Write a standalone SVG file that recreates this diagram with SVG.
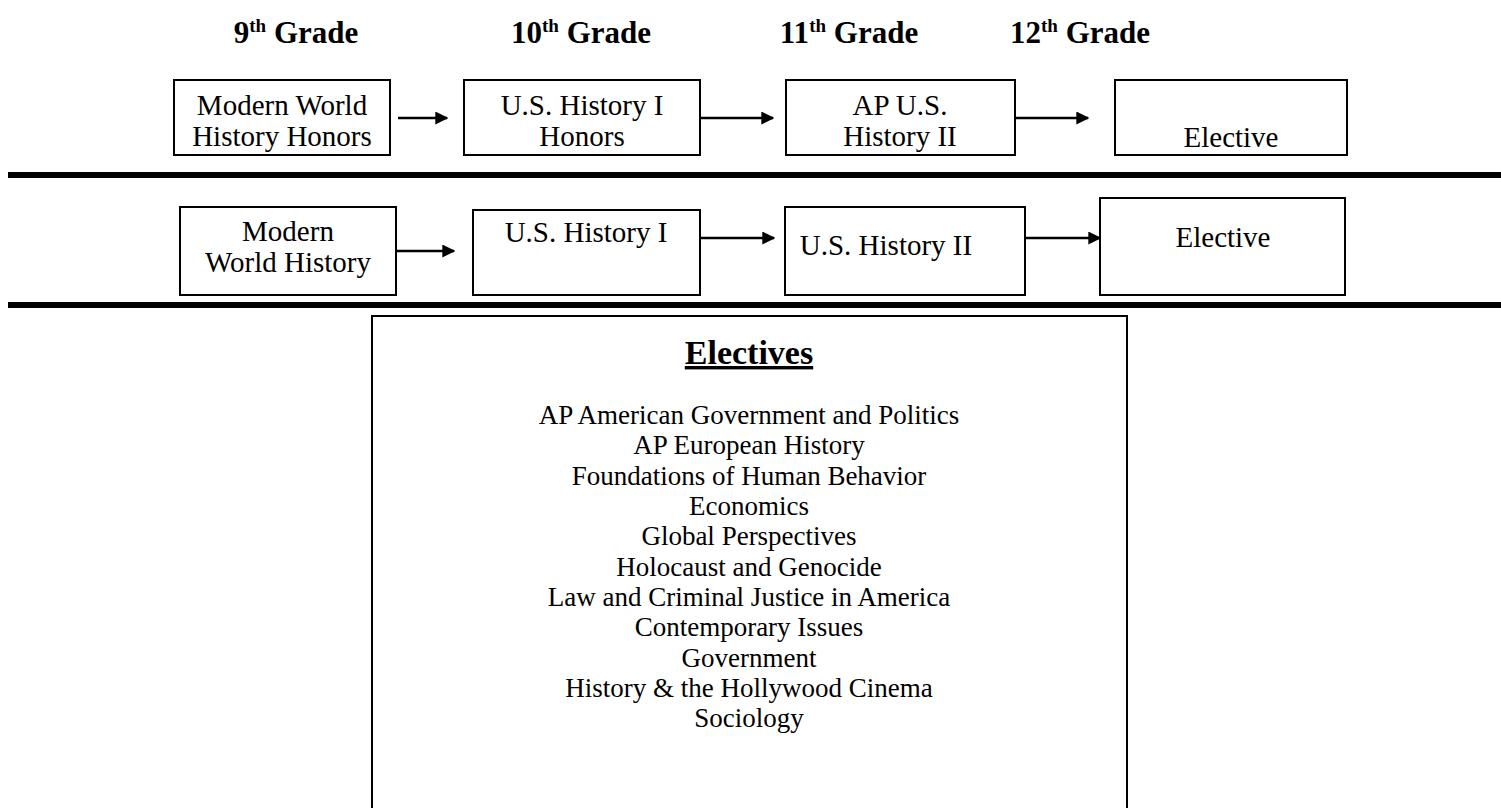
<svg xmlns="http://www.w3.org/2000/svg" width="1501" height="808" viewBox="0 0 1501 808">
<style>
  .box{fill:#fff;stroke:#000;stroke-width:2}
  .t{font-family:"Liberation Serif","Times New Roman",serif;font-size:29px;fill:#000;text-anchor:middle}
  .l{font-family:"Liberation Serif","Times New Roman",serif;font-size:27px;fill:#000;text-anchor:middle}
  .h{font-family:"Liberation Serif","Times New Roman",serif;font-size:31px;font-weight:bold;fill:#000;text-anchor:middle}
  .sup{font-size:19px}
  .conn{stroke:#000;stroke-width:2.5;fill:none;marker-end:url(#ah)}
  .rule{fill:#000}
</style>
<defs>
  <marker id="ah" viewBox="0 0 10 10" refX="9" refY="5" markerWidth="5.2" markerHeight="5.2" markerUnits="strokeWidth" orient="auto">
    <path d="M0,0 L10,5 L0,10 z" fill="#000"/>
  </marker>
</defs>
<rect width="1501" height="808" fill="#fff"/>
<g id="headers">
  <text class="h" x="296" y="43">9<tspan class="sup" dy="-11">th</tspan><tspan dy="11"> Grade</tspan></text>
  <text class="h" x="581" y="43">10<tspan class="sup" dy="-11">th</tspan><tspan dy="11"> Grade</tspan></text>
  <text class="h" x="849" y="43">11<tspan class="sup" dy="-11">th</tspan><tspan dy="11"> Grade</tspan></text>
  <text class="h" x="1080" y="43">12<tspan class="sup" dy="-11">th</tspan><tspan dy="11"> Grade</tspan></text>
</g>
<g id="r1n1"><rect class="box" x="174" y="80" width="216" height="75"/>
  <text class="t" x="282" y="115">Modern World</text><text class="t" x="282" y="146">History Honors</text></g>
<g id="r1n2"><rect class="box" x="464" y="80" width="236" height="75"/>
  <text class="t" x="582" y="115">U.S. History I</text><text class="t" x="582" y="146">Honors</text></g>
<g id="r1n3"><rect class="box" x="786" y="80" width="229" height="75"/>
  <text class="t" x="900" y="115">AP U.S.</text><text class="t" x="900" y="146">History II</text></g>
<g id="r1n4"><rect class="box" x="1115" y="80" width="232" height="75"/>
  <text class="t" x="1231" y="147">Elective</text></g>
<g id="rules">
  <rect class="rule" x="8" y="172" width="1493" height="6"/>
  <rect class="rule" x="8" y="302" width="1493" height="6"/>
</g>
<g id="r2n1"><rect class="box" x="180" y="207" width="216" height="88"/>
  <text class="t" x="288" y="241">Modern</text><text class="t" x="288" y="272">World History</text></g>
<g id="r2n2"><rect class="box" x="473" y="210" width="227" height="85"/>
  <text class="t" x="586" y="242">U.S. History I</text></g>
<g id="r2n3"><rect class="box" x="785" y="207" width="240" height="88"/>
  <text class="t" x="886" y="255">U.S. History II</text></g>
<g id="r2n4"><rect class="box" x="1100" y="198" width="245" height="97"/>
  <text class="t" x="1223" y="247">Elective</text></g>
<g id="connectors">
  <line class="conn" x1="398" y1="118" x2="447" y2="118"/>
  <line class="conn" x1="700" y1="118" x2="773" y2="118"/>
  <line class="conn" x1="1015" y1="118" x2="1088" y2="118"/>
  <line class="conn" x1="397" y1="251" x2="454" y2="251"/>
  <line class="conn" x1="700" y1="238" x2="774" y2="238"/>
  <line class="conn" x1="1026" y1="238" x2="1100" y2="238"/>
</g>
<g id="electives">
  <path d="M372,816 V316 H1127 V816" fill="none" stroke="#000" stroke-width="2"/>
  <text class="h" x="749" y="364" style="font-size:34px" text-decoration="underline">Electives</text>
  <text class="l" x="749" y="424">AP American Government and Politics</text>
  <text class="l" x="749" y="454">AP European History</text>
  <text class="l" x="749" y="485">Foundations of Human Behavior</text>
  <text class="l" x="749" y="515">Economics</text>
  <text class="l" x="749" y="545">Global Perspectives</text>
  <text class="l" x="749" y="576">Holocaust and Genocide</text>
  <text class="l" x="749" y="606">Law and Criminal Justice in America</text>
  <text class="l" x="749" y="636">Contemporary Issues</text>
  <text class="l" x="749" y="667">Government</text>
  <text class="l" x="749" y="697">History &amp; the Hollywood Cinema</text>
  <text class="l" x="749" y="727">Sociology</text>
</g>
</svg>
